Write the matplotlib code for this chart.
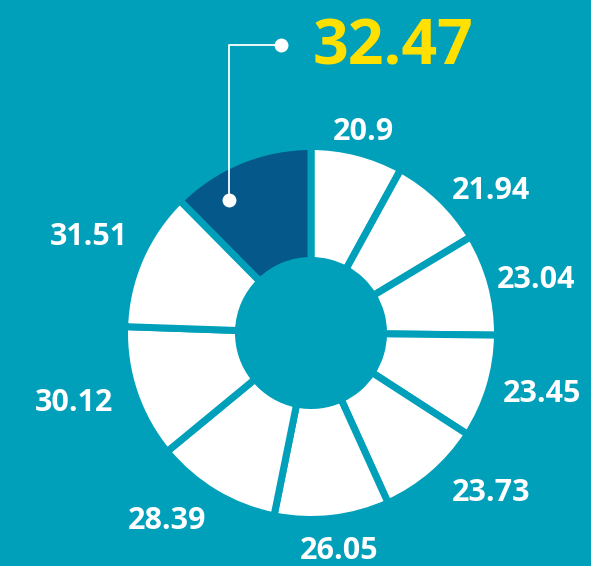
import numpy as np
import matplotlib
matplotlib.use("Agg")
import matplotlib.pyplot as plt

values = [20.9, 21.94, 23.04, 23.45, 23.73, 26.05, 28.39, 30.12, 31.51, 32.47]
labels = ["20.9", "21.94", "23.04", "23.45", "23.73", "26.05", "28.39", "30.12", "31.51", "32.47"]

# small per-label layout nudges (pixels), not data
label_nudge = [(1, 2), (-1, -6), (-12, -1), (-4, -2), (7, -5), (5, -14), (1, -12), (-4, -4), (5, 14), (0, 0)]

BG = "#00A0BA"
DARK = "#04598A"
YELLOW = "#FFE000"

W, H = 591, 566
fig = plt.figure(figsize=(W / 100, H / 100), dpi=100)
fig.patch.set_facecolor(BG)
ax = fig.add_axes([0, 0, 1, 1])
ax.set_facecolor(BG)
ax.axis("off")

cx, cy = 311, 233
R_vis = 183
R_in_vis = 76
lw_px = 7
R = R_vis + lw_px / 2
Rin = R_in_vis - lw_px / 2

colors = ["white"] * (len(values) - 1) + [DARK]
wedges, _ = ax.pie(values, center=(cx, cy), radius=R, startangle=90,
                   counterclock=False, colors=colors,
                   wedgeprops=dict(width=R - Rin, edgecolor=BG, linewidth=lw_px * 0.72))
ax.set_xlim(0, W)
ax.set_ylim(0, H)
ax.set_aspect("equal")

font = "Open Sans"
total = sum(values)
cum = 0
for i, (v, lab) in enumerate(zip(values, labels)):
    mid = (cum + v / 2) / total * 360
    cum += v
    if i == len(values) - 1:
        continue
    ang = np.deg2rad(90 - mid)
    r = 1.12 * R_vis
    x = cx + r * np.cos(ang) + label_nudge[i][0]
    y = cy + r * np.sin(ang) + label_nudge[i][1]
    c = np.cos(ang)
    ha = "left" if c > 0.3 else ("right" if c < -0.3 else "center")
    ax.text(x, y, lab, ha=ha, va="center", color="white", fontsize=22,
            fontweight="bold", family=font)

# highlighted last slice annotation
px, py = 229, H - 200
ty = H - 45
ax.plot([px, px, 281], [py, ty, ty], color="white", lw=1.3, solid_capstyle="butt")
ax.plot([px, 281], [py, ty], "o", color="white", ms=10, mec="none")
ax.text(313, ty - 3, labels[-1], ha="left", va="center", color=YELLOW,
        fontsize=45, fontweight="bold", family=font)

fig.savefig("out.png", dpi=100, facecolor=BG)
